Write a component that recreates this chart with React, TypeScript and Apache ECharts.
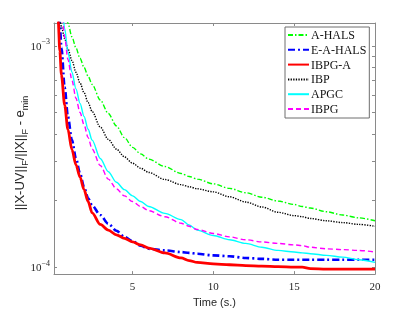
import React, { useEffect, useRef } from "react";
import * as echarts from "echarts";

// Time stamps (s.) shared by all methods
const TIME = [0.14, 0.25, 0.4, 0.5, 0.6, 0.8, 1.0, 1.25, 1.5, 1.75, 2.0, 2.25, 2.5, 3.0, 3.5, 4.0, 4.5, 5, 5.5, 6, 7, 8, 8.5, 9, 10, 11, 12, 13, 14, 15, 15.5, 16, 17, 18, 19, 20];

// ||X-UV||_F/||X||_F - e_min for each method
const A_HALS = [2.8e-3, 2.5e-3, 2.1e-3, 1.9e-3, 1.7e-3, 1.45e-3, 1.27e-3, 1.1e-3, 9.8e-4, 8.8e-4, 8.0e-4, 7.3e-4, 6.7e-4, 5.7e-4, 4.95e-4, 4.35e-4, 3.85e-4, 3.48e-4, 3.25e-4, 3.08e-4, 2.85e-4, 2.65e-4, 2.57e-4, 2.5e-4, 2.38e-4, 2.27e-4, 2.17e-4, 2.07e-4, 1.99e-4, 1.92e-4, 1.88e-4, 1.85e-4, 1.78e-4, 1.72e-4, 1.67e-4, 1.62e-4];
const E_A_HALS = [4.0e-3, 2.6e-3, 1.6e-3, 1.25e-3, 9.8e-4, 6.5e-4, 4.8e-4, 3.75e-4, 3.1e-4, 2.65e-4, 2.3e-4, 2.05e-4, 1.9e-4, 1.72e-4, 1.57e-4, 1.46e-4, 1.37e-4, 1.31e-4, 1.25e-4, 1.21e-4, 1.19e-4, 1.17e-4, 1.16e-4, 1.15e-4, 1.13e-4, 1.12e-4, 1.1e-4, 1.09e-4, 1.08e-4, 1.08e-4, 1.08e-4, 1.08e-4, 1.08e-4, 1.08e-4, 1.08e-4, 1.08e-4];
const IBPG_A = [3.0e-3, 2.0e-3, 1.3e-3, 9.5e-4, 7.4e-4, 5.4e-4, 4.2e-4, 3.4e-4, 2.9e-4, 2.55e-4, 2.24e-4, 1.98e-4, 1.76e-4, 1.56e-4, 1.47e-4, 1.4e-4, 1.35e-4, 1.3e-4, 1.26e-4, 1.22e-4, 1.16e-4, 1.1e-4, 1.07e-4, 1.05e-4, 1.035e-4, 1.025e-4, 1.015e-4, 1.01e-4, 1.005e-4, 1.0e-4, 1.0e-4, 9.85e-5, 9.8e-5, 9.8e-5, 9.8e-5, 9.8e-5];
const IBP = [2.5e-3, 1.9e-3, 1.5e-3, 1.33e-3, 1.22e-3, 1.08e-3, 9.7e-4, 8.6e-4, 7.6e-4, 6.8e-4, 6.15e-4, 5.55e-4, 5.05e-4, 4.3e-4, 3.78e-4, 3.42e-4, 3.15e-4, 2.95e-4, 2.8e-4, 2.68e-4, 2.49e-4, 2.36e-4, 2.31e-4, 2.26e-4, 2.19e-4, 2.08e-4, 1.97e-4, 1.87e-4, 1.77e-4, 1.71e-4, 1.69e-4, 1.66e-4, 1.62e-4, 1.59e-4, 1.56e-4, 1.53e-4];
const APGC = [6.0e-3, 4.2e-3, 2.6e-3, 2.0e-3, 1.6e-3, 1.2e-3, 9.4e-4, 7.6e-4, 6.4e-4, 5.5e-4, 4.8e-4, 4.2e-4, 3.75e-4, 3.1e-4, 2.7e-4, 2.42e-4, 2.24e-4, 2.1e-4, 1.98e-4, 1.88e-4, 1.75e-4, 1.64e-4, 1.55e-4, 1.47e-4, 1.39e-4, 1.33e-4, 1.28e-4, 1.23e-4, 1.19e-4, 1.17e-4, 1.16e-4, 1.15e-4, 1.13e-4, 1.11e-4, 1.08e-4, 1.05e-4];
const IBPG = [5.5e-3, 3.8e-3, 2.4e-3, 1.85e-3, 1.5e-3, 1.1e-3, 8.7e-4, 7.0e-4, 5.8e-4, 5.0e-4, 4.4e-4, 3.85e-4, 3.42e-4, 2.88e-4, 2.5e-4, 2.26e-4, 2.1e-4, 1.98e-4, 1.88e-4, 1.8e-4, 1.69e-4, 1.58e-4, 1.53e-4, 1.48e-4, 1.42e-4, 1.37e-4, 1.33e-4, 1.3e-4, 1.28e-4, 1.26e-4, 1.25e-4, 1.23e-4, 1.21e-4, 1.2e-4, 1.19e-4, 1.17e-4];

const SERIES_NAMES = ["A-HALS", "E-A-HALS", "IBPG-A", "IBP", "APGC", "IBPG"];

// Axis ranges and ticks
const X_MIN = 0.14;
const X_MAX = 20;
const X_TICKS = [5, 10, 15, 20];
const Y_MIN_VALUE = 9.3e-5;
const Y_MAX_VALUE = 1.27e-3;
const Y_DECADES = [1e-4, 1e-3];
const Y_TICK_VALUES = [1e-4, 2e-4, 3e-4, 4e-4, 5e-4, 6e-4, 7e-4, 8e-4, 9e-4, 1e-3];

const lg = (v: number) => Math.log10(v);

export default function App() {
  const ref = useRef<HTMLDivElement>(null);

  useEffect(() => {
    document.body.style.margin = "0";
    const chart = echarts.init(ref.current!, null, { renderer: "svg" });

    const serif = "'Liberation Serif', 'DejaVu Serif', serif";
    const sans = "'Liberation Sans', Arial, sans-serif";
    const axisColor = "#8a8a8a";
    const textColor = "#262626";

    const yMin = lg(Y_MIN_VALUE);
    const yMax = lg(Y_MAX_VALUE);
    const yTicks = Y_TICK_VALUES.map(lg);
    const yLabels = Y_DECADES.map(lg);

    const styles: any[] = [
      { color: "#00ff00", width: 1.4, type: [5, 2, 1.5, 2] },
      { color: "#0000ff", width: 2.6, type: [7, 3, 2, 3] },
      { color: "#ff0000", width: 2.8, type: "solid" },
      { color: "#000000", width: 1.4, type: [1.3, 1.3] },
      { color: "#00ffff", width: 1.4, type: "solid" },
      { color: "#ff00ff", width: 1.4, type: [5, 3] },
    ];
    const datasets = [A_HALS, E_A_HALS, IBPG_A, IBP, APGC, IBPG];

    const series = SERIES_NAMES.map((name, i) => ({
      name,
      type: "line",
      data: TIME.map((t, k) => [t, lg(datasets[i][k])]),
      showSymbol: false,
      symbol: "none",
      smooth: 0.3,
      smoothMonotone: "x",
      clip: true,
      lineStyle: styles[i],
      itemStyle: { color: styles[i].color },
      z: 2 + i,
    }));

    const option: any = {
      animation: false,
      grid: { left: 54, right: 40, top: 23, bottom: 36 },
      legend: {
        data: SERIES_NAMES,
        orient: "vertical",
        left: 285,
        top: 27,
        padding: [2, 3, 3, 2],
        itemWidth: 21,
        itemHeight: 12,
        itemGap: 2.8,
        backgroundColor: "#ffffff",
        borderColor: "#6e6e6e",
        borderWidth: 1,
        borderRadius: 0,
        itemStyle: { opacity: 0, borderWidth: 0 },
        textStyle: { fontFamily: serif, fontSize: 12, color: "#111", padding: [0, 0, 0, -3] },
      },
      xAxis: [
        {
          type: "value",
          min: X_MIN,
          max: X_MAX,
          position: "bottom",
          name: "Time (s.)",
          nameLocation: "middle",
          nameGap: 21,
          nameTextStyle: { fontFamily: sans, fontSize: 11, color: textColor },
          axisLine: { show: true, lineStyle: { color: axisColor, width: 1 } },
          axisTick: { show: true, inside: true, length: 3, customValues: X_TICKS, lineStyle: { color: axisColor } },
          axisLabel: { show: true, customValues: X_TICKS, margin: 6, fontFamily: serif, fontSize: 11, color: textColor },
          splitLine: { show: false },
        },
        {
          type: "value",
          min: X_MIN,
          max: X_MAX,
          position: "top",
          axisLine: { show: true, lineStyle: { color: axisColor, width: 1 } },
          axisTick: { show: true, inside: true, length: 3, customValues: X_TICKS, lineStyle: { color: axisColor } },
          axisLabel: { show: false },
          splitLine: { show: false },
        },
      ],
      yAxis: [
        {
          type: "value",
          min: yMin,
          max: yMax,
          position: "left",
          axisLine: { show: true, lineStyle: { color: axisColor, width: 1 } },
          axisTick: { show: true, inside: true, length: 3, customValues: yTicks, lineStyle: { color: axisColor } },
          axisLabel: {
            show: true,
            customValues: yLabels,
            margin: 4,
            formatter: (v: number) => `{b|10}{s|\u2212${Math.round(-v)}}`,
            rich: {
              b: { fontFamily: serif, fontSize: 11, color: textColor, lineHeight: 16 },
              s: { fontFamily: serif, fontSize: 8, color: textColor, lineHeight: 9, verticalAlign: "top" },
            },
          },
          splitLine: { show: false },
        },
        {
          type: "value",
          min: yMin,
          max: yMax,
          position: "right",
          axisLine: { show: true, lineStyle: { color: axisColor, width: 1 } },
          axisTick: { show: true, inside: true, length: 3, customValues: yTicks, lineStyle: { color: axisColor } },
          axisLabel: { show: false },
          splitLine: { show: false },
        },
      ],
      graphic: [
        {
          type: "text",
          x: 19,
          y: 153,
          rotation: Math.PI / 2,
          style: {
            text: "{n|||X-UV||}{d|F}{n|/||X||}{d|F}{n| - e}{d|min}",
            textAlign: "center",
            textVerticalAlign: "middle",
            rich: {
              n: { fontFamily: sans, fontSize: 13, fill: textColor, lineHeight: 20 },
              d: { fontFamily: sans, fontSize: 9, fill: textColor, lineHeight: 10, verticalAlign: "bottom" },
            },
          },
        },
      ],
      series,
    };

    chart.setOption(option);
    return () => chart.dispose();
  }, []);

  return <div ref={ref} style={{ position: "fixed", left: 0, top: 0, width: 415, height: 312 }} />;
}
